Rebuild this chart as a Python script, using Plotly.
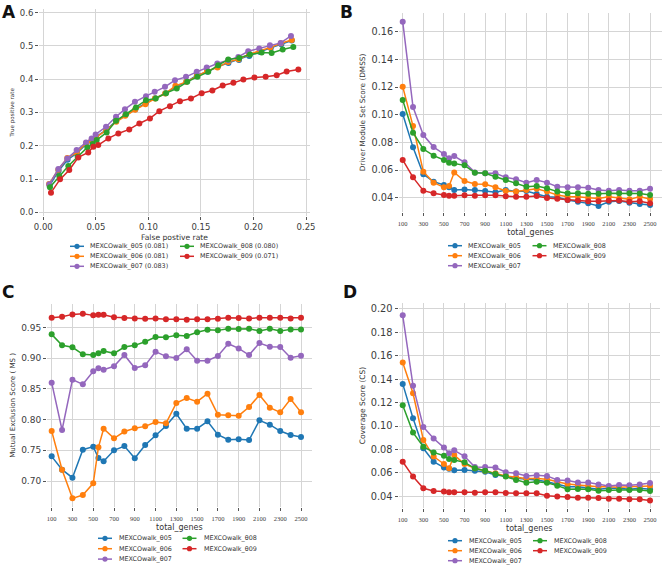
import plotly.graph_objects as go

W, H = 669, 565
FONT = "DejaVu Sans"

# ---------------- data ----------------
series_names = ["MEXCOwalk_θ05", "MEXCOwalk_θ06", "MEXCOwalk_θ07", "MEXCOwalk_θ08", "MEXCOwalk_θ09"]
auc_values = [0.081, 0.081, 0.083, 0.080, 0.071]
series_colors = ["#1f77b4", "#ff7f0e", "#9467bd", "#2ca02c", "#d62728"]

total_genes = [100, 200, 300, 400, 500, 550, 600, 700, 800, 900, 1000, 1100, 1200, 1300,
               1400, 1500, 1600, 1700, 1800, 1900, 2000, 2100, 2200, 2300, 2400, 2500]
gene_ticks = [100, 300, 500, 700, 900, 1100, 1300, 1500, 1700, 1900, 2100, 2300, 2500]

# Panel A: ROC points
fpr_05 = [0.006, 0.0146, 0.0231, 0.032, 0.041, 0.0462, 0.0502, 0.060, 0.0695, 0.0782, 0.0876, 0.0975, 0.1065,
          0.1162, 0.126, 0.1362, 0.1462, 0.156, 0.1662, 0.1762, 0.1862, 0.196, 0.2062, 0.2165, 0.2265, 0.2365]
tpr_05 = [0.080, 0.125, 0.158, 0.178, 0.205, 0.215, 0.227, 0.248, 0.275, 0.293, 0.310, 0.328, 0.343,
          0.358, 0.377, 0.392, 0.412, 0.422, 0.438, 0.449, 0.458, 0.470, 0.482, 0.494, 0.505, 0.516]
fpr_06 = [0.0055, 0.0143, 0.0228, 0.0318, 0.0408, 0.0458, 0.050, 0.0598, 0.0694, 0.078, 0.0874, 0.0972, 0.1062,
          0.116, 0.1257, 0.136, 0.1462, 0.1558, 0.1658, 0.1758, 0.1858, 0.1958, 0.2058, 0.216, 0.226, 0.2365]
tpr_06 = [0.085, 0.128, 0.163, 0.180, 0.208, 0.215, 0.225, 0.246, 0.272, 0.290, 0.308, 0.325, 0.342,
          0.357, 0.380, 0.392, 0.410, 0.425, 0.435, 0.452, 0.460, 0.475, 0.485, 0.495, 0.508, 0.518]
fpr_07 = [0.0057, 0.0143, 0.0228, 0.0317, 0.0406, 0.046, 0.0498, 0.0597, 0.0692, 0.0777, 0.0872, 0.0977, 0.106,
          0.1158, 0.1253, 0.1358, 0.146, 0.1555, 0.1656, 0.176, 0.1856, 0.195, 0.2055, 0.2157, 0.2259, 0.2357]
tpr_07 = [0.084, 0.130, 0.162, 0.187, 0.210, 0.222, 0.234, 0.257, 0.287, 0.310, 0.332, 0.349, 0.362,
          0.377, 0.397, 0.407, 0.422, 0.435, 0.447, 0.457, 0.467, 0.484, 0.492, 0.502, 0.509, 0.530]
fpr_08 = [0.0063, 0.0152, 0.0238, 0.0327, 0.0419, 0.047, 0.0508, 0.0603, 0.0692, 0.0787, 0.0882, 0.0977, 0.107,
          0.1168, 0.127, 0.137, 0.1466, 0.157, 0.1665, 0.176, 0.1865, 0.1967, 0.2078, 0.2173, 0.2278, 0.2379]
tpr_08 = [0.075, 0.109, 0.139, 0.167, 0.195, 0.205, 0.217, 0.240, 0.275, 0.295, 0.315, 0.337, 0.342,
          0.358, 0.372, 0.392, 0.407, 0.422, 0.442, 0.459, 0.464, 0.474, 0.480, 0.479, 0.489, 0.497]
fpr_09 = [0.0073, 0.0159, 0.0247, 0.0333, 0.0428, 0.0476, 0.0523, 0.0619, 0.0714, 0.0818, 0.0914, 0.1015, 0.1104,
          0.1205, 0.130, 0.1405, 0.1507, 0.1609, 0.1707, 0.1809, 0.1904, 0.2009, 0.2116, 0.2221, 0.2316, 0.2427]
tpr_09 = [0.059, 0.099, 0.127, 0.165, 0.180, 0.197, 0.202, 0.222, 0.237, 0.249, 0.267, 0.282, 0.304,
          0.319, 0.334, 0.342, 0.358, 0.366, 0.381, 0.389, 0.399, 0.405, 0.407, 0.412, 0.423, 0.429]

# Panel B: Driver Module Set Score
dmss_05 = [0.1005, 0.0764, 0.0569, 0.0516, 0.0492, 0.0475, 0.0456, 0.046, 0.0456, 0.0448, 0.0439, 0.0456, 0.0444,
           0.0448, 0.0427, 0.0407, 0.0403, 0.0383, 0.0371, 0.0359, 0.0340, 0.0371, 0.0376, 0.0364, 0.0354, 0.0347]
dmss_06 = [0.1203, 0.0918, 0.0588, 0.0509, 0.0475, 0.0485, 0.0583, 0.0521, 0.0499, 0.0497, 0.0475, 0.0448, 0.0444,
           0.0456, 0.0465, 0.0444, 0.0419, 0.0407, 0.0407, 0.0400, 0.0395, 0.0407, 0.0395, 0.0388, 0.0407, 0.0390]
dmss_07 = [0.1673, 0.1056, 0.0853, 0.0766, 0.0716, 0.0685, 0.0701, 0.0656, 0.0583, 0.0576, 0.0576, 0.0547, 0.0533,
           0.0509, 0.0528, 0.0509, 0.0480, 0.0475, 0.0475, 0.0472, 0.0456, 0.0451, 0.0456, 0.0451, 0.0451, 0.0465]
dmss_08 = [0.1106, 0.0870, 0.0752, 0.0704, 0.0673, 0.0653, 0.0648, 0.0634, 0.0581, 0.0576, 0.0552, 0.0528, 0.0504,
           0.0480, 0.0485, 0.0468, 0.0444, 0.0432, 0.0432, 0.0429, 0.0428, 0.0432, 0.0432, 0.0432, 0.0430, 0.0420]
dmss_09 = [0.0673, 0.0547, 0.0451, 0.0432, 0.0420, 0.0415, 0.0415, 0.0417, 0.0415, 0.0417, 0.0417, 0.0410, 0.0407,
           0.0407, 0.0412, 0.0398, 0.0393, 0.0383, 0.0379, 0.0374, 0.0374, 0.0379, 0.0379, 0.0371, 0.0374, 0.0360]

# Panel C: Mutual Exclusion Score
ms_05 = [0.7401, 0.7184, 0.7054, 0.7510, 0.7559, 0.7374, 0.7320, 0.7499, 0.7569, 0.7369, 0.7586, 0.7743, 0.7895,
         0.8095, 0.7851, 0.7851, 0.7971, 0.7754, 0.7672, 0.7678, 0.7667, 0.7987, 0.7916, 0.7813, 0.7748, 0.7716]
ms_06 = [0.7813, 0.7184, 0.6718, 0.6772, 0.6962, 0.7548, 0.7851, 0.7694, 0.7805, 0.7857, 0.7889, 0.7960, 0.7938,
         0.8269, 0.8350, 0.8291, 0.8421, 0.8079, 0.8068, 0.8063, 0.8204, 0.8399, 0.8193, 0.8117, 0.8334, 0.8117]
ms_07 = [0.8600, 0.7830, 0.8649, 0.8573, 0.8784, 0.8833, 0.8811, 0.8866, 0.9050, 0.8838, 0.8882, 0.9104, 0.9028,
         0.9001, 0.9142, 0.8958, 0.8958, 0.9034, 0.9234, 0.9158, 0.9050, 0.9245, 0.9186, 0.9180, 0.9007, 0.9039]
ms_08 = [0.9386, 0.9207, 0.9175, 0.9061, 0.9050, 0.9077, 0.9115, 0.9077, 0.9180, 0.9207, 0.9267, 0.9343, 0.9337,
         0.9370, 0.9359, 0.9419, 0.9462, 0.9451, 0.9478, 0.9473, 0.9478, 0.9440, 0.9478, 0.9440, 0.9467, 0.9467]
ms_09 = [0.9657, 0.9674, 0.9711, 0.9722, 0.9695, 0.9706, 0.9706, 0.9663, 0.9652, 0.9646, 0.9641, 0.9646, 0.9630,
         0.9630, 0.9625, 0.9630, 0.9630, 0.9641, 0.9657, 0.9652, 0.9646, 0.9657, 0.9657, 0.9657, 0.9646, 0.9657]

# Panel D: Coverage Score
cs_05 = [0.1360, 0.1066, 0.0810, 0.0696, 0.0645, 0.0635, 0.0622, 0.0625, 0.0619, 0.0610, 0.0582, 0.0573, 0.0553,
         0.0548, 0.0539, 0.0525, 0.0505, 0.0482, 0.0482, 0.0468, 0.0460, 0.0468, 0.0468, 0.0460, 0.0468, 0.0460]
cs_06 = [0.1542, 0.1280, 0.0881, 0.0739, 0.0676, 0.0639, 0.0752, 0.0676, 0.0639, 0.0619, 0.0596, 0.0573, 0.0562,
         0.0553, 0.0553, 0.0545, 0.0525, 0.0505, 0.0497, 0.0488, 0.0482, 0.0482, 0.0477, 0.0482, 0.0488, 0.0488]
cs_07 = [0.1946, 0.1345, 0.0992, 0.0893, 0.0816, 0.0767, 0.0793, 0.0742, 0.0651, 0.0651, 0.0645, 0.0605, 0.0596,
         0.0574, 0.0579, 0.0574, 0.0540, 0.0534, 0.0517, 0.0517, 0.0500, 0.0488, 0.0497, 0.0494, 0.0500, 0.0514]
cs_08 = [0.1177, 0.0944, 0.0824, 0.0775, 0.0747, 0.0719, 0.0710, 0.0690, 0.0639, 0.0619, 0.0591, 0.0568, 0.0539,
         0.0516, 0.0525, 0.0516, 0.0491, 0.0460, 0.0462, 0.0460, 0.0448, 0.0454, 0.0454, 0.0454, 0.0454, 0.0445]
cs_09 = [0.0695, 0.0568, 0.0468, 0.0445, 0.0440, 0.0434, 0.0434, 0.0434, 0.0431, 0.0434, 0.0434, 0.0428, 0.0425,
         0.0425, 0.0425, 0.0405, 0.0398, 0.0394, 0.0388, 0.0388, 0.0386, 0.0380, 0.0380, 0.0375, 0.0375, 0.0365]

roc_fpr = [fpr_05, fpr_06, fpr_07, fpr_08, fpr_09]
roc_tpr = [tpr_05, tpr_06, tpr_07, tpr_08, tpr_09]
dmss = [dmss_05, dmss_06, dmss_07, dmss_08, dmss_09]
ms = [ms_05, ms_06, ms_07, ms_08, ms_09]
cs = [cs_05, cs_06, cs_07, cs_08, cs_09]

# ---------------- figure ----------------
fig = go.Figure()

def add_series(xs_list, ys_list, xa, ya):
    for i, name in enumerate(series_names):
        fig.add_trace(go.Scatter(
            x=xs_list[i], y=ys_list[i], mode="lines+markers", name=name,
            line=dict(color=series_colors[i], width=1.5),
            marker=dict(color=series_colors[i], size=6),
            xaxis=xa, yaxis=ya, showlegend=False))

add_series(roc_fpr, roc_tpr, "x", "y")
add_series([total_genes] * 5, dmss, "x2", "y2")
add_series([total_genes] * 5, ms, "x3", "y3")
add_series([total_genes] * 5, cs, "x4", "y4")

GRID = "#d5d5d5"
TICKC = "#3c3c3c"

def xdom(a, b):
    return [a / W, b / W]

def ydom(top, bottom):
    return [1 - bottom / H, 1 - top / H]

def base_axis(**kw):
    d = dict(showgrid=True, gridcolor=GRID, gridwidth=1, zeroline=False, showline=False,
             ticks="outside", ticklen=3, tickwidth=1, tickcolor="#555555", automargin=False)
    d.update(kw)
    return d

def gene_xaxis(dom, rng, anchor, standoff):
    return base_axis(domain=dom, range=rng, anchor=anchor, tickmode="array",
                     tickvals=gene_ticks, ticktext=[str(v) for v in gene_ticks],
                     tickfont=dict(family="Liberation Serif", size=6.5, color=TICKC),
                     ticklabelstandoff=2,
                     title=dict(text="total_genes", font=dict(family=FONT, size=8, color="#333333"),
                                standoff=standoff))

fig.update_layout(
    width=W, height=H, margin=dict(l=0, r=0, t=0, b=0), autosize=False,
    paper_bgcolor="white", plot_bgcolor="white",
    font=dict(family=FONT, color="#333333"),
    xaxis=base_axis(domain=xdom(39, 310), range=[-0.0041, 0.2538], anchor="y",
                    tick0=0, dtick=0.05, tickformat=".2f",
                    tickfont=dict(size=8.5, color=TICKC),
                    title=dict(text="False postive rate", font=dict(size=7.6, color="#333333"), standoff=3)),
    yaxis=base_axis(domain=ydom(9, 216), range=[-0.0111, 0.6109], anchor="x",
                    tick0=0, dtick=0.1, tickformat=".1f",
                    tickfont=dict(size=8.5, color=TICKC),
                    title=dict(text="True positive rate", font=dict(size=5.6, color="#333333"), standoff=4)),
    xaxis2=gene_xaxis(xdom(399, 662), [64, 2616], "y2", 3),
    yaxis2=base_axis(domain=ydom(13, 212), range=[0.02966, 0.17355], anchor="x2",
                     tick0=0, dtick=0.02, tickformat=".2f",
                     tickfont=dict(size=9.7, color=TICKC),
                     title=dict(text="Driver Module Set Score (DMSS)", font=dict(size=7.3, color="#333333"),
                                standoff=4)),
    xaxis3=gene_xaxis(xdom(47, 311.7), [55, 2603], "y3", 3),
    yaxis3=base_axis(domain=ydom(304, 506.7), range=[0.6582, 0.988], anchor="x3",
                     tick0=0, dtick=0.05, tickformat=".2f",
                     tickfont=dict(size=9, color=TICKC),
                     title=dict(text="Mutual Exclusion Score ( MS )", font=dict(size=7.1, color="#333333"),
                                standoff=4)),
    xaxis4=gene_xaxis(xdom(398.5, 660), [59, 2597], "y4", 3),
    yaxis4=base_axis(domain=ydom(303, 508), range=[0.030, 0.2051], anchor="x4",
                     tick0=0, dtick=0.02, tickformat=".2f",
                     tickfont=dict(size=9.8, color=TICKC),
                     title=dict(text="Coverage Score (CS)", font=dict(size=7.5, color="#333333"), standoff=4)),
)

# ---------------- compact legends (2 columns) ----------------
# (col1 key x, col2 key x, first row y, row step, text offset, include AUC)
legend_specs = [
    (77, 187, 246.3, 10.0, 11, True),
    (455, 539.5, 245.7, 10.0, 11, False),
    (105, 189.5, 538.3, 10.4, 12, False),
    (455, 540, 540.7, 10.0, 12, False),
]
legend_layout = [(0, 0), (0, 1), (0, 2), (1, 0), (1, 1)]  # (column, row) for each series

shapes = []
annotations = []
for (c1, c2, y0, dy, tdx, with_auc) in legend_specs:
    for i, name in enumerate(series_names):
        col, row = legend_layout[i]
        kx = c1 if col == 0 else c2
        ky = y0 + row * dy
        col_ = series_colors[i]
        shapes.append(dict(type="line", xref="paper", yref="paper",
                           x0=(kx - 7) / W, x1=(kx + 7) / W, y0=1 - ky / H, y1=1 - ky / H,
                           line=dict(color=col_, width=1.5)))
        shapes.append(dict(type="circle", xref="paper", yref="paper",
                           x0=(kx - 2.6) / W, x1=(kx + 2.6) / W,
                           y0=1 - (ky + 2.6) / H, y1=1 - (ky - 2.6) / H,
                           fillcolor=col_, line=dict(width=0)))
        label = f"{name} ({auc_values[i]:.3f})" if with_auc else name
        annotations.append(dict(text=label, xref="paper", yref="paper",
                                x=(kx + tdx) / W, y=1 - ky / H, xanchor="left", yanchor="middle",
                                showarrow=False, font=dict(family=FONT, size=6.4, color="#333333")))

# panel letters (kept fully inside the page)
for letter, lx, ly in [("A", 1, 1), ("B", 339, 1), ("C", 1, 281), ("D", 342, 281)]:
    annotations.append(dict(text=f"<b>{letter}</b>", xref="paper", yref="paper",
                            x=lx / W, y=1 - ly / H, xanchor="left", yanchor="top",
                            showarrow=False, borderpad=0,
                            font=dict(family=FONT, size=17, color="#111111")))

fig.update_layout(shapes=shapes, annotations=annotations)

fig.write_html("out.html")
